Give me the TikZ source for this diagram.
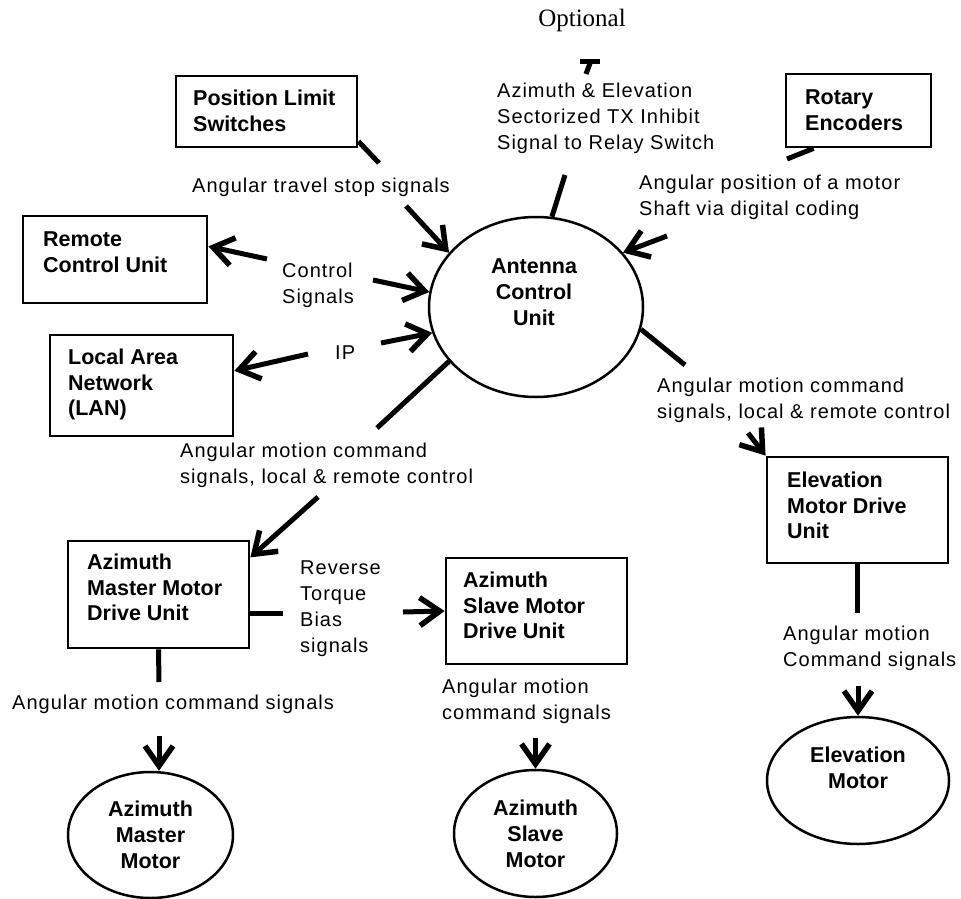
\documentclass[tikz,border=0pt]{standalone}
\usepackage{fontspec}
\setmainfont{Liberation Sans}
\newfontfamily\labfont[LetterSpace=5]{Liberation Sans}
\newfontfamily\optfont{Liberation Serif}
\usetikzlibrary{arrows.meta,shapes.geometric}
\begin{document}
\begin{tikzpicture}[x=1pt,y=-1pt,
 box/.style={draw,line width=2.8pt,rectangle,inner sep=0pt},
 oval/.style={draw,line width=2.5pt,ellipse,inner sep=0pt},
 boxtxt/.style={anchor=north west,align=left,inner sep=0pt,font=\fontsize{21.5}{25.5}\selectfont\bfseries},
 ovaltxt/.style={align=center,inner sep=0pt,font=\fontsize{21.5}{26}\selectfont\bfseries},
 lab/.style={anchor=north west,align=left,inner sep=0pt,font=\labfont\fontsize{20}{26}\selectfont},
 stub/.style={line width=5pt},
 arr/.style={line width=5pt,-{Straight Barb[length=20pt,width=28pt,line width=5.5pt]}}
]
\fill[white] (0,0) rectangle (961,899);
\useasboundingbox (0,0) rectangle (961,899);

% ---- nodes ----
\node[box,minimum width=181pt,minimum height=71pt] (pls) at (266.5,111.5) {};
\node[boxtxt] (plst) at (193,90) {Position Limit\\Switches};
\node[box,minimum width=184pt,minimum height=87pt] (rcu) at (115,259.5) {};
\node[boxtxt] (rcut) at (43,232) {Remote\\Control Unit};
\node[box,minimum width=183pt,minimum height=101pt] (lan) at (141.5,385.5) {};
\node[boxtxt] (lant) at (68,349) {Local Area\\Network\\(LAN)};
\node[box,minimum width=145pt,minimum height=73pt] (re) at (858.5,110.5) {};
\node[boxtxt] (ret) at (805,90) {Rotary\\Encoders};
\node[box,minimum width=181pt,minimum height=107pt] (mmdu) at (158.5,594.5) {};
\node[boxtxt] (mmdut) at (87,554) {Azimuth\\Master Motor\\Drive Unit};
\node[box,minimum width=181pt,minimum height=106pt] (smdu) at (536.5,611) {};
\node[boxtxt] (smdut) at (463,572) {Azimuth\\Slave Motor\\Drive Unit};
\node[box,minimum width=181pt,minimum height=106pt] (emdu) at (857.5,510) {};
\node[boxtxt] (emdut) at (787,472) {Elevation\\Motor Drive\\Unit};

\node[oval,minimum width=214pt,minimum height=180pt] (acu) at (536,307) {};
\node[ovaltxt] (acut) at (534,292) {Antenna\\Control\\Unit};
\node[oval,minimum width=165pt,minimum height=126pt] (mm) at (150.5,835) {};
\node[ovaltxt] (mmt) at (150.5,835) {Azimuth\\Master\\Motor};
\node[oval,minimum width=163pt,minimum height=127pt] (sm) at (535.5,833.5) {};
\node[ovaltxt] (smt) at (535.5,834) {Azimuth\\Slave\\Motor};
\node[oval,minimum width=182pt,minimum height=127pt] (em) at (858,780.5) {};
\node[ovaltxt] (emt) at (858,768) {Elevation\\Motor};

% ---- labels ----
\node[inner sep=0pt,font=\optfont\fontsize{25}{30}\selectfont] (opt) at (582,20) {Optional};
\node[lab] (l1) at (192,178) {Angular travel stop signals};
\node[lab] (l2) at (497,83) {Azimuth \& Elevation\\Sectorized TX Inhibit\\Signal to Relay Switch};
\node[lab] (l3) at (639,175) {Angular position of a motor\\Shaft via digital coding};
\node[lab] (l4) at (282,263) {Control\\Signals};
\node[lab] (l5) at (335,346) {IP};
\node[lab] (l6) at (180,443) {Angular motion command\\signals, local \& remote control};
\node[lab] (l7) at (657,378) {Angular motion command\\signals, local \& remote control};
\node[lab] (l8) at (300,561) {Reverse\\Torque\\Bias\\signals};
\node[lab] (l9) at (12,695) {Angular motion command signals};
\node[lab] (l10) at (442,679) {Angular motion\\command signals};
\node[lab] (l11) at (783,626) {Angular motion\\Command signals};

% ---- free ends ----
\coordinate (plsA) at (379,163);
\coordinate (plsB) at (406,206);
\coordinate (rcuA) at (267,259);
\coordinate (rcuB) at (373,280);
\coordinate (lanA) at (308,354);
\coordinate (lanB) at (381,343);
\coordinate (mA) at (377,428);
\coordinate (mB) at (318,497);
\coordinate (eA) at (685,365);
\coordinate (eB) at (748,433);
\coordinate (reA) at (787,159);
\coordinate (reB) at (667,236);
\coordinate (oA) at (565,175);
\coordinate (oT) at (589,68);
\coordinate (rA) at (283,613);
\coordinate (rB) at (403,612);
\coordinate (mdA) at (159,682);
\coordinate (mdB) at (159,736);
\coordinate (sdB) at (535.5,738);
\coordinate (edA) at (857.5,613);
\coordinate (edB) at (858,686);

% ---- connectors ----
\draw[stub] ([yshift=7pt]pls.south east) -- (plsA);
\draw[arr] (plsB) -- (acu.148);
\draw[arr] (rcuA) -- (rcu.8);
\draw[arr] (rcuB) -- (acu.172);
\draw[arr] (lanA) -- (lan.9);
\draw[arr] (lanB) -- (acu.194);
\draw[stub] (acu.212) -- (mA);
\draw[arr] (mB) -- (mmdu.22);
\draw[stub] (acu.-12) -- (eA);
\draw[arr] (eB) -- (emdu.north west);
\draw[stub] ([xshift=29pt]re.south west) -- (reA);
\draw[arr] (reB) -- (acu.32);
\draw[stub] (acu.80) -- (oA);
\draw[line width=5pt] ([shift={(-3,6)}]oT) -- ([shift={(1.5,-6)}]oT);
\draw[line width=5.5pt] ([shift={(-9,-6.5)}]oT) -- ([shift={(11,-6.5)}]oT);
\draw[stub] ([yshift=-18.5pt]mmdu.east) -- (rA);
\draw[arr] (rB) -- (smdu.west);
\draw[stub] (mmdu.south) -- (mdA);
\draw[arr] (mdB) -- (mdB |- mm.north);
\draw[arr] (sdB) -- (sm.north);
\draw[stub] (emdu.south) -- (edA);
\draw[arr] (edB) -- (em.north);
\end{tikzpicture}
\end{document}
